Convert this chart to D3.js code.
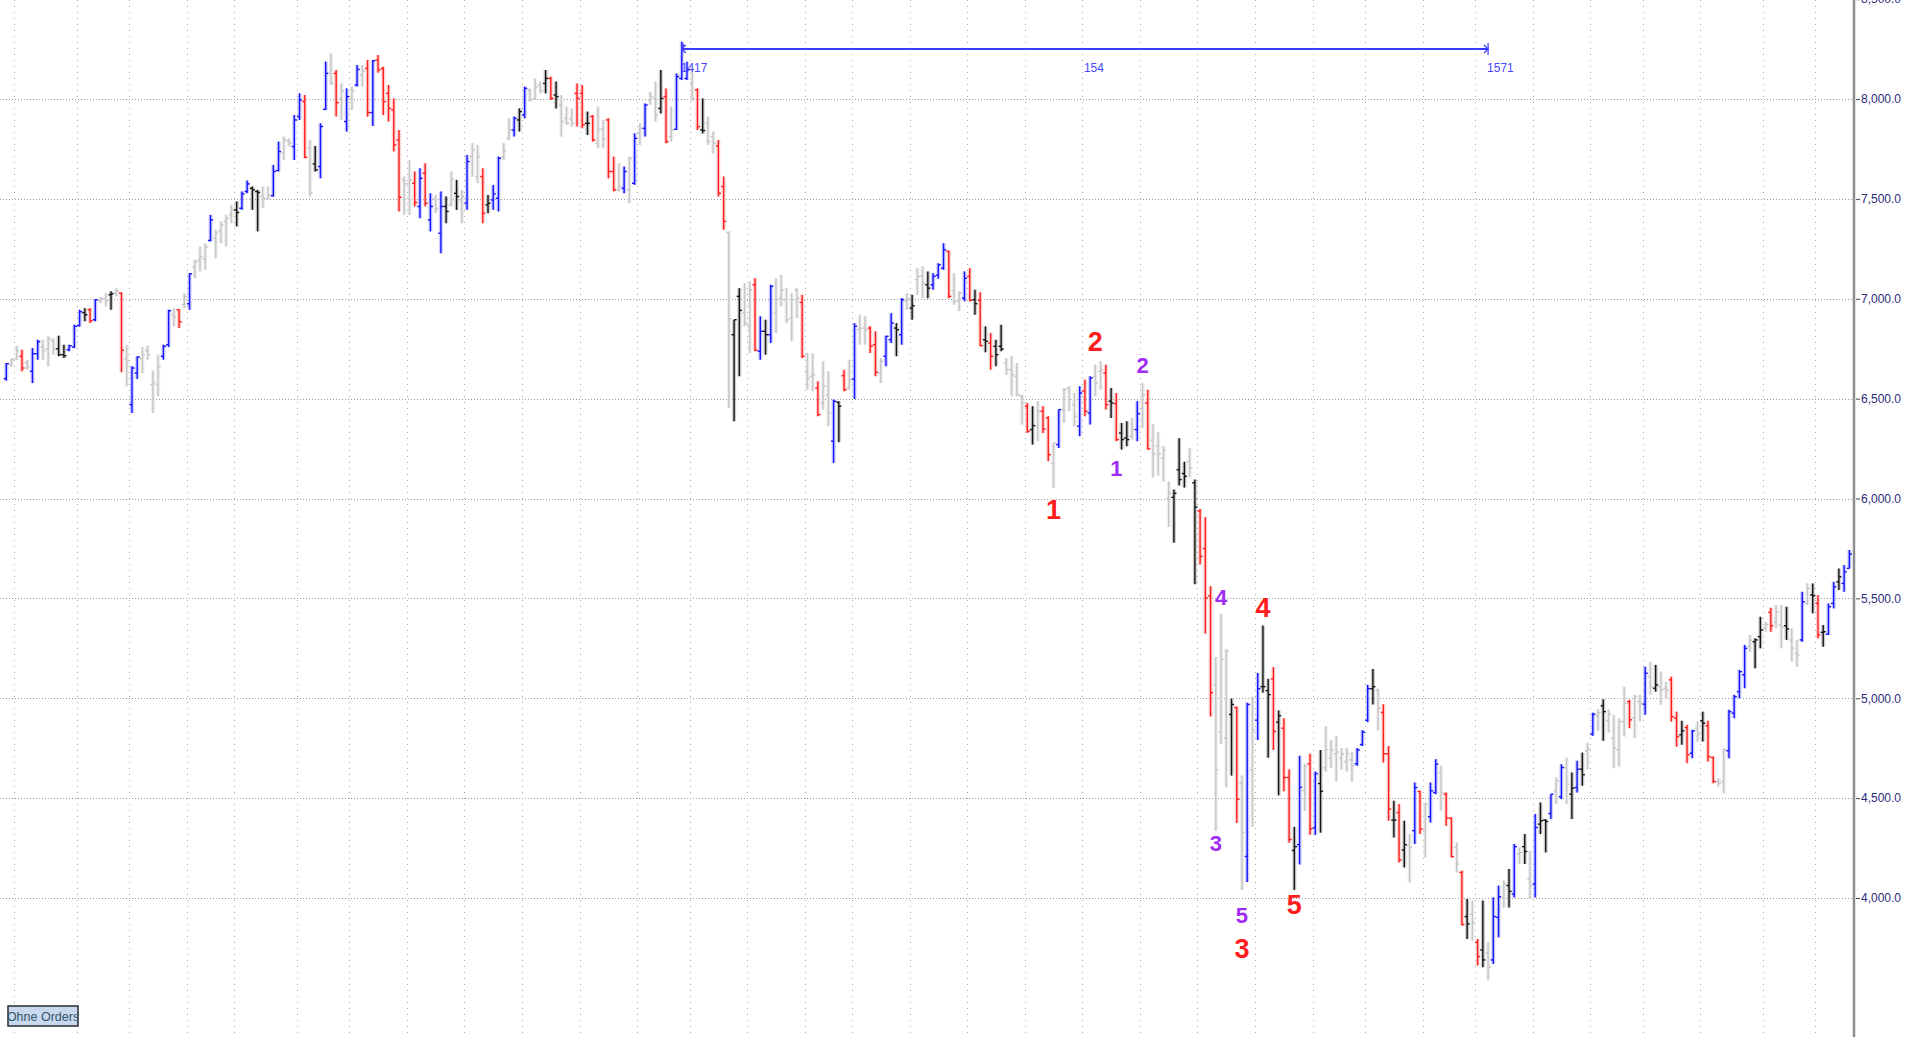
<!doctype html>
<html>
<head>
<meta charset="utf-8">
<title>Bars</title>
<script src="https://d3js.org/d3.v7.min.js"></script>
<style>
  html, body { margin: 0; padding: 0; background: #fff; overflow: hidden; }
  svg { display: block; }
</style>
</head>
<body>
<div id="chart"></div>
<script>
// bar numbers start here, one value per bar below
const firstBar = 1288

const open = [
  6600,6670,6700,6712,6680,6637,6725,6760,6750,6790, 6750,6720,6745,6758,6865,6930,6945,6895,6990,7000,
  7020,7030,7028,6700,6470,6628,6700,6740,6570,6570, 6712,6770,6920,6945,6970,6975,7160,7195,7200,7292,
  7303,7340,7387,7420,7445,7453,7537,7553,7537,7512, 7500,7515,7642,7728,7790,7762,7912,7987,7753,7675,
  7662,7948,8128,8128,8000,7887,8000,8070,8120,8153, 7932,8195,8153,8028,7945,7795,7595,7575,7578,7462,
  7628,7395,7500,7328,7462,7470,7528,7495,7480,7712, 7612,7612,7470,7495,7503,7710,7803,7845,7895,7920,
  8045,8000,8070,8078,8103,8020,7970,7903,7900,8028, 8028,7878,7912,7778,7850,7895,7637,7545,7553,7545,
  7578,7828,7853,7995,8003,7953,8012,7812,7848,8103, 8103,8080,8045,7845,7878,7812,7765,7562,7330,6820,
  7012,6928,6862,7070,6737,6837,6820,6928,7003,6995, 6903,7045,6982,6637,6612,6553,6478,6520,6287,6482,
  6615,6553,6598,6845,6853,6853,6770,6628,6712,6795, 6853,6820,6990,6953,7095,7112,7070,7070,7118,7153,
  7237,7040,6987,7003,7112,6995,6992,6795,6778,6762, 6762,6678,6645,6612,6512,6462,6345,6362,6437,6403,
  6178,6270,6445,6553,6470,6362,6537,6428,6612,6637, 6628,6487,6475,6328,6303,6312,6345,6450,6478,6292,
  6262,6203,6000,6006,6144,6125,6184,6079,5937,5749, 5512,5067,4830,4800,4919,4953,4574,4208,4640,4890,
  5058,5038,5097,4880,4850,4603,4238,4267,4538,4672, 4352,4573,4652,4700,4722,4700,4682,4692,4672,4768,
  4890,5048,5040,4929,4722,4390,4428,4240,4262,4337, 4533,4337,4407,4528,4628,4520,4400,4253,4128,3907,
  3920,3778,3740,3725,3690,3903,4003,4062,4020,4220, 4257,4095,4070,4370,4390,4423,4537,4507,4653,4520,
  4553,4645,4737,4820,4912,4962,4887,4800,4742,4883, 4983,4900,4983,4970,5108,5050,5058,5050,5092,4900,
  4817,4853,4725,4850,4887,4862,4703,4583,4583,4737, 4925,5033,5117,5260,5283,5308,5350,5430,5380,5367,
  5363,5292,5225,5292,5475,5517,5475,5330,5320,5475, 5583,5575,5650
]
const high = [
  6678,6703,6765,6745,6695,6753,6795,6795,6812,6803, 6815,6770,6770,6870,6945,6953,6953,6998,7008,7028,
  7037,7053,7032,6770,6662,6712,6758,6765,6640,6720, 6770,6945,6953,6948,7028,7128,7195,7262,7278,7420,
  7345,7387,7420,7470,7487,7537,7592,7562,7545,7562, 7562,7670,7787,7812,7803,7920,8028,8020,7795,7765,
  7878,8187,8228,8145,8078,8053,8062,8170,8170,8195, 8195,8220,8162,8070,8003,7845,7612,7695,7637,7653,
  7678,7528,7520,7537,7512,7637,7595,7545,7720,7778, 7770,7653,7520,7570,7712,7778,7903,7912,7953,8062,
  8053,8103,8087,8145,8112,8087,8020,7962,7953,8078, 8070,7937,7920,7962,7895,7903,7712,7678,7662,7712,
  7828,7878,7978,8037,8087,8145,8053,7962,8128,8287, 8187,8153,8053,8003,7912,7837,7795,7612,7337,6895,
  7053,7078,7087,7103,6912,6895,7070,7103,7120,7053, 7028,7053,7020,6728,6728,6587,6687,6637,6495,6487,
  6645,6695,6878,6920,6912,6862,6837,6703,6815,6928, 6878,7003,7028,7020,7153,7162,7137,7128,7178,7278,
  7242,7128,7037,7137,7153,7045,7032,6862,6828,6795, 6870,6703,6712,6678,6520,6478,6462,6487,6462,6412,
  6278,6445,6553,6562,6528,6562,6595,6612,6670,6687, 6670,6553,6528,6378,6387,6403,6487,6578,6545,6372,
  6332,6263,6085,6045,6302,6184,6253,6095,5947,5907, 5561,5206,5423,5245,4998,4959,4613,4978,5008,5127,
  5364,5097,5156,4939,4900,4643,4356,4712,4672,4722, 4633,4741,4860,4791,4811,4751,4751,4731,4751,4840,
  5067,5146,5048,4970,4761,4487,4470,4387,4320,4578, 4537,4478,4578,4695,4662,4528,4403,4278,4137,3995,
  3987,3795,3987,3778,4003,4062,4087,4145,4270,4253, 4320,4237,4420,4478,4395,4520,4603,4670,4703,4628,
  4687,4728,4778,4928,4945,4995,4945,4917,4900,5058, 4992,5017,5017,5158,5183,5167,5133,5083,5108,4933,
  4887,4867,4842,4883,4933,4887,4708,4600,4750,4942, 5017,5142,5267,5317,5300,5408,5383,5453,5467,5467,
  5458,5350,5292,5533,5575,5575,5517,5367,5475,5583, 5650,5667,5742
]
const low = [
  6590,6660,6695,6637,6645,6578,6695,6695,6662,6720, 6712,6703,6737,6753,6862,6887,6878,6887,6978,6962,
  6945,7012,6632,6562,6428,6598,6628,6695,6428,6512, 6695,6758,6862,6853,6953,6945,7103,7137,7145,7287,
  7203,7278,7262,7378,7362,7445,7528,7445,7337,7453, 7495,7512,7637,7695,7762,7695,7895,7703,7512,7637,
  7603,7945,8070,7912,7895,7837,7945,8062,8062,7912, 7865,8132,7920,7887,7737,7437,7420,7420,7462,7403,
  7462,7337,7428,7228,7378,7462,7445,7378,7445,7612, 7578,7378,7428,7445,7437,7695,7795,7812,7837,7903,
  7987,7995,8028,8028,7995,7953,7812,7870,7862,7862, 7853,7820,7787,7753,7753,7603,7537,7537,7528,7478,
  7570,7770,7812,7970,7887,7928,7778,7787,7845,8095, 8095,7990,7845,7828,7770,7728,7512,7345,6453,6387,
  6612,6862,6728,6737,6695,6720,6778,6828,6962,6878, 6787,6903,6703,6545,6537,6412,6445,6362,6178,6282,
  6537,6545,6498,6770,6770,6728,6612,6578,6662,6778, 6712,6770,6945,6895,7020,7003,7003,7045,7100,7145,
  7003,6970,6937,6987,6987,6920,6762,6732,6645,6662, 6737,6620,6512,6512,6370,6328,6270,6287,6328,6187,
  6053,6253,6378,6437,6362,6312,6412,6370,6512,6545, 6445,6403,6287,6245,6262,6295,6287,6353,6245,6105,
  6115,6085,5858,5779,6065,6055,6105,5571,5670,5324, 4909,4336,4771,4554,4613,4376,4040,4080,4356,4791,
  5028,4702,4741,4514,4534,4277,4040,4168,4435,4317, 4317,4327,4633,4652,4583,4643,4633,4583,4662,4761,
  4880,4969,4840,4678,4387,4303,4178,4153,4078,4270, 4320,4203,4378,4520,4437,4362,4203,4128,3862,3795,
  3787,3662,3653,3587,3670,3803,3953,3953,4003,4170, 4170,3995,4003,4320,4228,4395,4470,4495,4470,4395,
  4528,4562,4645,4812,4837,4787,4828,4650,4658,4808, 4850,4800,4883,4917,5017,5033,4967,5000,4883,4758,
  4767,4675,4700,4783,4783,4683,4575,4558,4525,4700, 4900,5000,5050,5233,5150,5250,5333,5333,5350,5250,
  5292,5183,5158,5283,5467,5425,5300,5258,5317,5450, 5542,5533,5650
]
const close = [
  6675,6695,6740,6653,6660,6725,6785,6740,6800,6750, 6720,6715,6765,6862,6935,6920,6890,6995,7000,6990,
  7025,7040,6743,6690,6653,6708,6720,6720,6580,6660, 6762,6940,6910,6885,7010,7125,7185,7212,7260,7395,
  7328,7370,7403,7445,7432,7525,7575,7545,7532,7503, 7520,7637,7737,7795,7780,7895,7995,7708,7528,7645,
  7862,8128,8078,7982,8040,8012,8040,8148,8140,7932, 8192,8145,7987,7953,7770,7508,7575,7595,7482,7603,
  7478,7462,7450,7462,7437,7600,7512,7512,7687,7745, 7712,7428,7478,7525,7703,7740,7845,7903,7937,8053,
  7995,8060,8040,8103,8003,8012,7887,7878,7880,8003, 7870,7878,7795,7845,7800,7637,7545,7562,7637,7703,
  7803,7853,7970,8012,7920,8003,7787,7845,8112,8270, 8145,8003,7862,7842,7787,7778,7528,7387,6900,6895,
  6942,6878,7045,6742,6837,6820,7062,6995,7045,6895, 6995,7003,6712,6603,6620,6420,6562,6428,6487,6462,
  6545,6595,6862,6853,6845,6762,6632,6687,6812,6878, 6845,6995,7000,6965,7112,7078,7053,7112,7170,7245,
  7012,6987,7028,7103,6992,6975,6765,6787,6712,6720, 6748,6645,6620,6520,6478,6337,6365,6437,6348,6220,
  6278,6445,6545,6495,6412,6528,6437,6603,6578,6645, 6470,6478,6295,6295,6295,6345,6425,6520,6248,6223,
  6222,6243,6026,6026,6095,6111,6154,5957,5710,5502, 5028,4643,5195,5235,4969,4494,4327,4969,4840,5048,
  5058,5018,4834,4913,4603,4293,4257,4554,4662,4346, 4623,4534,4741,4740,4731,4720,4722,4662,4741,4830,
  5048,5058,4950,4722,4445,4390,4190,4267,4253,4553, 4345,4470,4537,4670,4528,4400,4207,4170,3867,3870,
  3878,3707,3690,3653,3907,4007,4070,4033,4257,4228, 4233,4062,4353,4387,4383,4520,4587,4653,4570,4550,
  4645,4617,4745,4920,4928,4933,4920,4750,4883,4975, 4892,5008,4975,5125,5058,5067,5042,5040,4908,4808,
  4837,4717,4837,4820,4875,4708,4583,4575,4742,4933, 5008,5133,5250,5290,5292,5342,5370,5363,5433,5358,
  5347,5250,5217,5483,5550,5513,5317,5333,5458,5558, 5608,5633,5722
]
// b = blue, r = red, k = black, g = grey
const colour = (
  'bggrgbbggg' + 'kkbbbkrbgg' + 'kgrgbbgggg' + 'bbgrgbgggb' + 'ggggkbbkkg' +
  'gbbggbbrgk' + 'bbgrgbgbgr' + 'brrrrrggrb' + 'rbgbkgkgbg' + 'grkbbggbkb' +
  'gggkrkgggr' + 'rkrggrrgbg' + 'bgbggkrgbb' + 'bgrkggrrgk' + 'kggrbkbggg' +
  'ggrggrggbk' + 'rgbggrrgbb' + 'kbgkggkbbb' + 'rggbrkrkrk' + 'kggggrkgrr' +
  'gbgggbrbgg' + 'rkrkkgbgrg' + 'gggkkkgkrr' + 'rgggkrgbgb' + 'kkrkrrkbgr' +
  'bkggggggbb' + 'bkgrrkrkgb' + 'rgbbgrrgrk' + 'grkgbbgkbg' + 'kgbkkbgbgk' +
  'bkgbgkgggg' + 'rggbgkggrr' + 'krbgkrrggb' + 'bbbgkkgrgg' + 'kggbgkrkbb' +
  'kbb'
).split('')

const priceTicks = [4000, 4500, 5000, 5500, 6000, 6500, 7000, 7500, 8000, 8500]
const gridPrices = [4000, 4500, 5000, 5500, 6000, 6500, 7000, 7500, 8000]
// bars that start a new period (dotted vertical lines)
const periodBars = [1290, 1302, 1312, 1323, 1332, 1344, 1354, 1365, 1376, 1387, 1398,
  1409, 1419, 1430, 1441, 1450, 1461, 1472, 1483, 1494, 1505, 1516, 1527, 1538,
  1548, 1559, 1569, 1580, 1591, 1601, 1612, 1624, 1634]

// wave counts
const waveText  = ['1', '2', '3', '4', '5', '1', '2', '3', '4', '5']
const waveBar   = [1488, 1496, 1524, 1528, 1534, 1500, 1505, 1519, 1520, 1524]
const wavePrice = [5945, 6785, 3750, 5455, 3970, 6150, 6670, 4275, 5505, 3915]
const waveSet   = ['main', 'main', 'main', 'main', 'main', 'sub', 'sub', 'sub', 'sub', 'sub']

const rangeStart = 1417
const rangeEnd = 1571

const W = 1920, H = 1037
const axisX = 1855

const bars = open.map((o, i) => ({
  n: firstBar + i, o: o, h: high[i], l: low[i], c: close[i], col: colour[i]
}))

const x = d3.scaleLinear()
  .domain([firstBar, firstBar + open.length - 1])
  .range([6.3, 6.3 + 5.236 * (open.length - 1)])
const y = d3.scaleLinear().domain([4000, 8000]).range([898, 99])
const step = x(firstBar + 1) - x(firstBar)

const lineCol = { b: '#1414ff', r: '#ff1e1e', k: '#141414', g: '#c6c6c6' }
const haloCol = { b: '#8f8fff', r: '#ff9c9c', k: '#8c8c8c', g: '#e2e2e2' }

const svg = d3.select('#chart').append('svg')
  .attr('width', W).attr('height', H)
  .style('font-family', '"Liberation Sans", Arial, sans-serif')

// grid
svg.append('g').selectAll('line').data(gridPrices).join('line')
  .attr('x1', 0).attr('x2', axisX - 1)
  .attr('y1', d => Math.round(y(d)) + 0.5).attr('y2', d => Math.round(y(d)) + 0.5)
  .attr('stroke', '#9c9c9c').attr('stroke-dasharray', '1,2')

svg.append('g').selectAll('line').data(periodBars).join('line')
  .attr('x1', d => Math.round(x(d) - step / 2) + 0.5)
  .attr('x2', d => Math.round(x(d) - step / 2) + 0.5)
  .attr('y1', 0).attr('y2', H)
  .attr('stroke', '#a8a8a8').attr('stroke-dasharray', '1,5')

// bars
const g = svg.append('g')
const bar = g.selectAll('g').data(bars).join('g')

bar.append('rect')
  .attr('x', d => x(d.n) - 2)
  .attr('width', 4)
  .attr('y', d => y(d.h))
  .attr('height', d => Math.max(1, y(d.l) - y(d.h)))
  .attr('fill', d => haloCol[d.col])
  .attr('opacity', d => d.col === 'g' ? 0.6 : 0.45)

bar.append('line')
  .attr('x1', d => x(d.n)).attr('x2', d => x(d.n))
  .attr('y1', d => y(d.h)).attr('y2', d => y(d.l))
  .attr('stroke', d => lineCol[d.col]).attr('stroke-width', 1.4)

bar.append('line')
  .attr('x1', d => x(d.n) - 2.6).attr('x2', d => x(d.n))
  .attr('y1', d => y(d.o)).attr('y2', d => y(d.o))
  .attr('stroke', d => lineCol[d.col]).attr('stroke-width', 1.4)

bar.append('line')
  .attr('x1', d => x(d.n)).attr('x2', d => x(d.n) + 2.6)
  .attr('y1', d => y(d.c)).attr('y2', d => y(d.c))
  .attr('stroke', d => lineCol[d.col]).attr('stroke-width', 1.4)

// wave labels
svg.append('g').selectAll('text').data(waveText).join('text')
  .attr('x', (d, i) => x(waveBar[i]))
  .attr('y', (d, i) => y(wavePrice[i]))
  .attr('dy', '0.36em')
  .attr('text-anchor', 'middle')
  .style('font-family', '"Liberation Sans Narrow", "Arial Narrow", sans-serif')
  .style('font-weight', 'bold')
  .style('font-size', (d, i) => waveSet[i] === 'main' ? '27px' : '22px')
  .attr('fill', (d, i) => waveSet[i] === 'main' ? '#ff1c1c' : '#a12cf5')
  .text(d => d)

// measured range
const rx0 = x(rangeStart), rx1 = x(rangeEnd), ry = 49
const rg = svg.append('g').attr('stroke', '#3a3aff').attr('fill', 'none')
rg.append('line').attr('x1', rx0).attr('x2', rx1).attr('y1', ry).attr('y2', ry).attr('stroke-width', 2)
rg.append('line').attr('x1', rx0).attr('x2', rx0).attr('y1', ry - 6).attr('y2', ry + 6).attr('stroke-width', 1.2)
rg.append('line').attr('x1', rx1).attr('x2', rx1).attr('y1', ry - 6).attr('y2', ry + 6).attr('stroke-width', 1.2)
rg.append('path').attr('d', `M${rx0 + 4},${ry - 4}L${rx0},${ry}L${rx0 + 4},${ry + 4}`).attr('stroke-width', 1.2)
rg.append('path').attr('d', `M${rx1 - 4},${ry - 4}L${rx1},${ry}L${rx1 - 4},${ry + 4}`).attr('stroke-width', 1.2)

const rangeText = [String(rangeStart), String(rangeEnd - rangeStart), String(rangeEnd)]
const rangeAt = [rangeStart, (rangeStart + rangeEnd) / 2, rangeEnd]
svg.append('g').selectAll('text').data(rangeText).join('text')
  .attr('x', (d, i) => x(rangeAt[i]) - 1)
  .attr('y', 72)
  .style('font-family', '"Liberation Sans Narrow", "Arial Narrow", sans-serif')
  .style('font-size', '12px')
  .attr('fill', '#4646ff')
  .text(d => d)

// price axis
svg.append('line')
  .attr('x1', axisX - 1).attr('x2', axisX - 1).attr('y1', 0).attr('y2', H)
  .attr('stroke', '#8e8e8e').attr('stroke-width', 2.5)

svg.append('g')
  .attr('transform', `translate(${axisX + 1},0)`)
  .call(d3.axisRight(y).tickValues(priceTicks).tickFormat(d3.format(',.1f')).tickSize(4).tickPadding(1))
  .call(a => a.select('.domain').remove())
  .call(a => a.selectAll('line').attr('stroke', '#444'))
  .call(a => a.selectAll('text')
    .attr('fill', '#2c2c7c')
    .style('font-family', '"Liberation Sans", Arial, sans-serif')
    .style('font-size', '12px'))

// button
const btn = svg.append('g').attr('transform', 'translate(8,1006)')
btn.append('rect').attr('width', 70).attr('height', 20)
  .attr('fill', '#c7d8ef').attr('stroke', '#2b2b2b').attr('stroke-width', 1.5)
btn.append('text').attr('x', 35).attr('y', 14.5).attr('text-anchor', 'middle')
  .style('font-family', '"Liberation Sans Narrow", "Arial Narrow", sans-serif')
  .style('font-size', '12.5px')
  .attr('fill', '#34566a')
  .text('Ohne Orders')
</script>
</body>
</html>
